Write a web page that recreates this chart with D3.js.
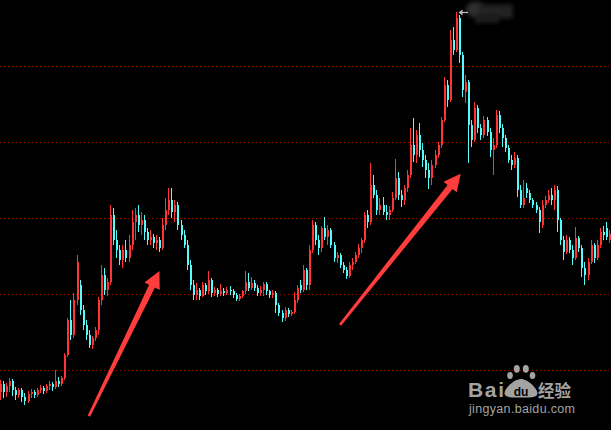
<!DOCTYPE html>
<html><head><meta charset="utf-8">
<script src="https://cdn.jsdelivr.net/npm/d3@7"></script>
<style>html,body{margin:0;padding:0;background:#000;overflow:hidden}</style>
</head><body>
<svg id="c" width="611" height="430"></svg>
<script>
// ---- data (price units) ----
const opens = [7.2,8.2,7.2,8.0,8.6,7.4,6.8,7.4,6.5,6.0, 6.9,7.2,6.8,7.4,7.7,7.3,8.0,8.2,7.8,8.6,
 8.2,9.0,12.0,16.6,14.7,19.3,21.3,18.0,16.0,14.7, 13.4,14.3,15.3,19.3,22.6,20.6,21.6,30.5,27.2,25.8,
 24.5,25.8,24.8,26.5,29.5,30.5,29.2,29.8,28.2,27.2, 27.6,26.8,27.2,26.1,29.2,31.1,32.4,30.9,31.8,29.2,
 27.8,26.5,23.9,21.3,19.9,20.6,19.8,21.3,20.4,21.9, 20.2,20.6,20.1,20.5,20.2,20.6,20.4,19.9,19.4,19.8,
 20.4,21.6,20.9,21.5,20.9,20.2,20.6,21.4,20.4,19.9, 20.2,18.6,17.6,16.9,18.0,17.4,17.7,19.3,21.3,20.6,
 23.2,21.3,25.8,29.2,27.2,26.1,28.7,27.6,28.5,26.5, 24.8,25.2,23.9,23.2,22.4,23.9,24.3,25.2,26.1,27.2,
 30.5,29.5,34.4,33.1,31.1,31.8,30.9,30.5,31.1,32.7, 35.3,33.1,32.4,34.0,35.7,39.7,38.4,41.0,39.0,37.7,
 36.4,35.3,37.0,38.4,39.7,43.0,47.6,45.6,53.5,52.2, 56.4,51.5,46.6,48.0,42.3,40.3,44.5,41.9,41.0,43.0,
 41.4,39.0,39.7,43.6,41.9,40.6,39.3,37.7,37.0,38.0, 33.8,31.8,34.0,33.4,32.4,31.8,31.1,29.2,31.8,32.4,
 33.1,32.4,33.8,29.8,27.2,25.6,27.2,25.8,24.8,27.4, 26.1,23.5,22.6,24.3,26.5,24.8,26.5,28.2,28.7,27.2];
const closes = [8.2,7.2,8.0,8.6,7.4,6.8,7.4,6.5,6.0,6.9, 7.2,6.8,7.4,7.7,7.3,8.0,8.2,7.8,8.6,8.2,
 9.0,12.0,16.6,14.7,19.3,24.3,18.0,16.0,14.7,13.4, 14.3,15.3,19.3,22.6,20.6,21.6,30.5,27.2,25.8,24.5,
 25.8,24.8,26.5,29.5,30.5,29.2,29.8,28.2,27.2,27.6, 26.8,27.2,26.1,29.2,31.1,32.4,30.9,31.8,29.2,27.8,
 26.5,23.9,21.3,19.9,20.6,19.8,21.3,20.4,21.9,20.2, 20.6,20.1,20.5,20.2,20.6,20.4,19.9,19.4,19.8,20.4,
 21.6,20.9,21.5,20.9,20.2,20.6,21.4,20.4,19.9,20.2, 18.6,17.6,16.9,18.0,17.4,17.7,19.3,20.9,20.6,23.2,
 21.3,25.8,29.2,27.2,26.1,28.7,27.6,28.5,26.5,24.8, 25.2,23.9,23.2,22.4,23.9,24.3,25.2,26.1,27.2,30.5,
 29.5,34.4,33.1,31.1,31.8,30.9,30.5,31.1,32.7,35.3, 33.1,32.4,34.0,35.7,39.7,38.4,41.0,39.0,37.7,36.4,
 35.3,37.0,38.4,39.7,43.0,47.6,45.6,53.5,52.2,56.4, 51.5,46.9,48.0,42.3,40.3,44.5,41.9,41.0,43.0,41.4,
 39.0,39.7,43.6,41.9,40.6,39.3,37.7,37.0,38.0,33.8, 31.8,32.7,33.4,32.4,31.8,31.1,29.5,31.8,32.4,33.1,
 32.4,33.8,29.8,27.2,25.6,27.2,25.8,24.8,27.4,26.1, 23.5,22.6,24.3,26.5,24.8,26.5,28.2,27.8,27.6,28.0];
const highs = [8.8,8.6,8.4,9.0,8.9,7.8,7.7,7.7,7.0,7.3, 7.6,7.4,7.7,8.1,8.0,8.2,8.6,8.5,10.1,9.1,
 9.3,12.3,16.9,19.3,20.2,25.2,21.9,18.6,16.6,15.3, 14.5,15.7,19.7,23.9,23.5,22.2,31.8,31.4,28.5,26.5,
 26.5,27.2,27.8,31.1,31.4,31.8,30.9,30.5,28.7,28.5, 28.0,27.8,27.5,30.1,32.7,34.0,34.0,32.4,32.2,29.8,
 28.5,27.2,24.5,21.9,21.5,20.9,21.6,21.5,23.1,22.2, 21.0,20.9,21.4,20.9,21.0,21.1,20.7,20.2,20.1,20.6,
 23.1,22.8,22.3,21.9,21.3,21.1,21.6,21.6,20.6,20.6, 20.5,18.9,18.0,18.4,18.2,18.0,20.3,21.3,21.9,23.9,
 23.5,26.5,29.8,29.5,27.8,29.0,30.2,29.2,28.7,26.9, 25.6,25.5,24.3,23.6,24.3,24.8,25.6,26.6,27.4,30.9,
 31.1,37.3,35.7,33.8,32.7,32.8,31.8,31.6,33.5,37.8, 36.1,33.8,34.4,36.4,41.9,43.2,41.6,42.6,39.9,38.4,
 37.3,37.7,39.0,40.1,43.4,48.6,48.2,54.8,55.2,57.2, 56.8,51.9,48.9,48.2,43.0,45.3,44.9,42.4,43.5,43.4,
 41.9,40.6,44.3,44.1,42.4,41.0,39.7,38.4,38.7,38.4, 34.4,35.1,34.7,33.8,32.7,32.2,31.5,32.4,33.0,33.8,
 34.0,34.4,34.3,30.1,27.7,27.8,27.6,26.5,28.9,27.7, 26.5,24.3,24.8,27.2,26.8,27.2,28.7,29.0,29.5,28.5];
const lows = [6.1,6.4,6.5,7.2,6.6,6.1,6.4,5.9,5.5,5.7, 6.4,6.4,6.5,7.0,6.9,7.0,7.4,7.3,7.6,7.8,
 8.0,8.8,11.8,14.0,14.3,18.6,17.3,15.3,14.0,13.0, 12.8,13.9,14.7,18.6,19.9,19.8,21.3,26.5,24.8,23.9,
 23.5,24.3,24.3,25.8,27.2,28.2,27.8,27.2,26.5,26.5, 26.1,25.8,25.6,25.8,28.5,30.5,30.1,29.5,28.5,27.2,
 26.1,23.2,20.6,19.3,19.3,19.3,19.7,19.9,20.1,19.7, 19.8,19.7,19.8,19.8,19.9,19.9,19.5,19.1,19.1,19.5,
 20.1,20.5,20.6,20.5,19.8,19.8,19.8,19.9,19.5,19.5, 17.6,17.2,16.4,16.5,17.0,17.2,17.4,18.9,20.2,20.3,
 20.6,20.6,25.5,26.5,25.2,25.6,27.2,26.5,26.1,24.3, 24.1,23.5,22.8,22.0,22.2,23.2,24.0,24.8,25.5,26.8,
 28.7,29.2,32.7,30.5,30.5,30.5,29.8,29.8,30.9,32.4, 32.4,31.5,31.8,33.5,35.3,37.4,37.3,38.1,36.8,35.3,
 33.9,34.4,36.6,38.0,39.3,42.7,44.7,45.3,51.5,51.9, 50.5,46.0,45.2,37.3,39.4,40.1,41.2,40.3,40.6,40.8,
 38.1,35.7,39.3,41.2,39.4,38.7,37.3,36.4,36.6,32.8, 31.4,31.4,32.7,32.0,31.4,30.7,28.1,28.7,31.4,32.0,
 31.8,31.1,28.2,26.5,24.5,25.3,25.5,23.9,24.5,25.6, 22.3,21.3,21.9,24.0,24.1,24.5,26.1,27.2,27.2,26.8];
const gridPrices = [10, 20, 30, 40, 50];
// annotation arrows: from (bar index, price) to (bar index, price)
const arrowFromIdx = [29.1, 111.3];
const arrowFromPrice = [4.0, 16.0];
const arrowToIdx = [52.2, 150.8];
const arrowToPrice = [23.1, 35.9];

// ---- drawing ----
const W = 611, H = 430;
const svg = d3.select('#c');
svg.append('rect').attr('width', W).attr('height', H).attr('fill', '#000');
const n = opens.length;
const x = d3.scaleBand().domain(d3.range(n)).range([0, W]).paddingInner(0.33).paddingOuter(0);
const xi = d3.scaleLinear().domain([0, n]).range([0, W]);
const y = d3.scaleLinear().domain([2.17, 58.75]).range([H, 0]);

const defs = svg.append('defs');
defs.append('filter').attr('id', 'blur').attr('x', '-50%').attr('y', '-50%').attr('width', '200%').attr('height', '200%')
  .append('feGaussianBlur').attr('stdDeviation', 2.2);

// gridlines
svg.append('g').selectAll('line').data(gridPrices).join('line')
  .attr('x1', 0).attr('x2', W)
  .attr('y1', d => Math.floor(y(d)) + 0.5).attr('y2', d => Math.floor(y(d)) + 0.5)
  .attr('stroke', '#a00000').attr('stroke-width', 1).attr('stroke-dasharray', '1,3');

const RED = '#ff3535', CYAN = '#54fcfc';
const bars = d3.range(n).map(i => ({i, o: opens[i], c: closes[i], h: highs[i], l: lows[i]}));
const g = svg.append('g').attr('shape-rendering', 'crispEdges');
const bw = Math.max(2, Math.round(x.bandwidth()));
const col = d => d.c >= d.o ? RED : CYAN;
g.selectAll('rect.w').data(bars).join('rect').attr('class', 'w')
  .attr('x', d => Math.round(x(d.i)))
  .attr('width', 1)
  .attr('y', d => Math.round(y(Math.max(d.h, d.o, d.c))))
  .attr('height', d => Math.max(1, Math.round(y(Math.min(d.l, d.o, d.c))) - Math.round(y(Math.max(d.h, d.o, d.c)))))
  .attr('fill', col);
g.selectAll('rect.b').data(bars).join('rect').attr('class', 'b')
  .attr('x', d => Math.round(x(d.i)))
  .attr('width', bw)
  .attr('y', d => Math.round(y(Math.max(d.o, d.c))))
  .attr('height', d => Math.max(1, Math.round(y(Math.min(d.o, d.c))) - Math.round(y(Math.max(d.o, d.c)))))
  .attr('fill', col);

// peak marker
const pk = d3.maxIndex(highs);
const px = Math.round(x(pk)) + bw + 1, py = Math.round(y(highs[pk])) + 0.5;
const blob = svg.append('g').attr('filter', 'url(#blur)');
blob.append('ellipse').attr('cx', px + 17).attr('cy', py - 3).attr('rx', 10).attr('ry', 8).attr('fill', '#2e2e2e');
blob.append('rect').attr('x', px + 20).attr('y', py - 8).attr('width', 34).attr('height', 14).attr('fill', '#222');
blob.append('rect').attr('x', px + 16).attr('y', py + 2).attr('width', 24).attr('height', 9).attr('fill', '#1a1a1a');
svg.append('line').attr('x1', px + 2).attr('x2', px + 9).attr('y1', py).attr('y2', py)
  .attr('stroke', '#bdbdbd').attr('stroke-width', 1.2);
svg.append('path').attr('d', `M${px - 0.5},${py} L${px + 3.5},${py - 3} L${px + 3.5},${py + 3} Z`).attr('fill', '#bdbdbd');

// red annotation arrows
arrowFromIdx.forEach((_, k) => {
  const T = [xi(arrowFromIdx[k]), y(arrowFromPrice[k])];
  const P = [xi(arrowToIdx[k]), y(arrowToPrice[k])];
  const dx = P[0] - T[0], dy = P[1] - T[1], L = Math.hypot(dx, dy);
  const u = [dx / L, dy / L], nn = [-u[1], u[0]];
  const hl = 17, hw = 8.5, wt = 1.3, ws = 3.2;
  const B = [P[0] - u[0] * hl, P[1] - u[1] * hl];
  const pt = (p, s) => [p[0] + nn[0] * s, p[1] + nn[1] * s];
  const pts = [pt(T, wt), pt(B, ws), pt(B, hw), P, pt(B, -hw), pt(B, -ws), pt(T, -wt)];
  svg.append('path').attr('d', d3.line()(pts) + 'Z').attr('fill', '#ff3d3d');
});

// watermark
const wm = svg.append('g').attr('fill', '#a3a3a3');
wm.append('text').attr('x', 468).attr('y', 396.5).attr('font-family', 'Liberation Sans, Arial, sans-serif')
  .attr('font-weight', 'bold').attr('font-size', 21).attr('textLength', 36).text('Bai');
[[510, 375.5, 2.8, 3.6], [516.8, 368.8, 3, 3.9], [525.8, 368.8, 3, 3.9], [532.5, 375.5, 2.8, 3.6]].forEach(t => {
  wm.append('ellipse').attr('cx', t[0]).attr('cy', t[1]).attr('rx', t[2]).attr('ry', t[3]);
});
wm.append('path').attr('d', 'M521,379 C528,379 538,389 537.5,393.5 C537,398 528,397.5 521,397.5 C514,397.5 505,398 504.5,393.5 C504,389 514,379 521,379 Z');
svg.append('text').attr('x', 521).attr('y', 395.5).attr('text-anchor', 'middle')
  .attr('font-family', 'Liberation Sans, Arial, sans-serif').attr('font-weight', 'bold').attr('font-size', 12)
  .attr('fill', '#000').text('du');
wm.append('text').attr('x', 538).attr('y', 396.5).attr('font-family', 'Noto Sans CJK SC, sans-serif')
  .attr('font-weight', 'bold').attr('font-size', 16.5).text('经验');
wm.append('text').attr('x', 469).attr('y', 412.5).attr('font-family', 'Liberation Sans, Arial, sans-serif')
  .attr('font-size', 12.5).attr('textLength', 106).text('jingyan.baidu.com');
</script>
</body></html>
